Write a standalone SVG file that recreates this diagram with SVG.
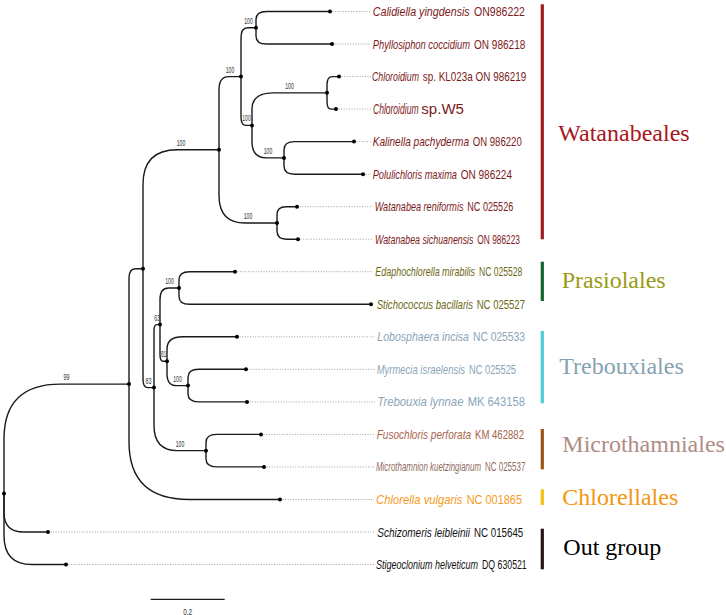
<svg xmlns="http://www.w3.org/2000/svg" width="726" height="615" viewBox="0 0 726 615">
<style>
.br{fill:none;stroke:#1a1a1a;stroke-width:1.4}
.dt{fill:none;stroke:#8a8a8a;stroke-width:0.8;stroke-dasharray:1 1.6}
.nd{fill:#000}
.bs{font-family:"Liberation Sans",Arial,sans-serif;font-size:9px;fill:#333;text-anchor:middle}
.tx{font-family:"Liberation Sans",Arial,sans-serif;font-size:13px}
.big{font-size:14px}
.it{font-style:italic}
.gl{font-family:"Liberation Serif","Times New Roman",serif;font-size:24px}
.bar{stroke-width:3.2}
.w{fill:#7c1a1a}.p{fill:#6c6812}.t{fill:#8ba5b8}.m1{fill:#a8644c}.m2{fill:#8f6c62}.c{fill:#f59a1a}.o{fill:#111}
</style>
<g id="connectors">
<path class="br" d="M256,27.75 V19.6 Q256,11.5 266.6,11.5 H330"/>
<path class="br" d="M256,27.75 V35.9 Q256,44 266.6,44 H332"/>
<path class="br" d="M327,92.85 V84.7 Q327,76.6 332.4,76.6 H339"/>
<path class="br" d="M327,92.85 V101.5 Q327,109.1 331.05,109.1 H336"/>
<path class="br" d="M284,157.9 V149.75 Q284,141.6 294.6,141.6 H354"/>
<path class="br" d="M284,157.9 V166.05 Q284,174.2 294.6,174.2 H363"/>
<path class="br" d="M252,125.4 V109.1 Q252,92.85 273.2,92.85 H327"/>
<path class="br" d="M252,125.4 V141.65 Q252,157.9 266.4,157.9 H284"/>
<path class="br" d="M241,76.6 V37.85 Q241,27.75 247.75,27.75 H256"/>
<path class="br" d="M241,76.6 V116.94 Q241,125.4 245.95,125.4 H252"/>
<path class="br" d="M277,222.95 V214.8 Q277,206.7 286,206.7 H297"/>
<path class="br" d="M277,222.95 V231.1 Q277,239.2 286.45,239.2 H298"/>
<path class="br" d="M219,149.8 V89.5 Q219,76.6 228.9,76.6 H241"/>
<path class="br" d="M219,149.8 V195.45 Q219,222.95 245.1,222.95 H277"/>
<path class="br" d="M179,288 V279.85 Q179,271.7 189.6,271.7 H235"/>
<path class="br" d="M179,288 V296.15 Q179,304.3 189.6,304.3 H371"/>
<path class="br" d="M188,385.6 V377.45 Q188,369.3 198.6,369.3 H246"/>
<path class="br" d="M188,385.6 V393.75 Q188,401.9 198.6,401.9 H247"/>
<path class="br" d="M167,361.2 V349 Q167,336.8 182.9,336.8 H237"/>
<path class="br" d="M167,361.2 V373.4 Q167,385.6 176.45,385.6 H188"/>
<path class="br" d="M160,324.6 V299.7 Q160,288 168.55,288 H179"/>
<path class="br" d="M160,324.6 V354.4 Q160,361.2 163.15,361.2 H167"/>
<path class="br" d="M206,450.65 V442.5 Q206,434.4 216.56,434.4 H261"/>
<path class="br" d="M206,450.65 V458.8 Q206,466.9 216.56,466.9 H264"/>
<path class="br" d="M154,387.6 V331 Q154,324.6 156.7,324.6 H160"/>
<path class="br" d="M154,387.6 V425.55 Q154,450.65 177.4,450.65 H206"/>
<path class="br" d="M143,268.7 V184.6 Q143,149.8 177.2,149.8 H219"/>
<path class="br" d="M143,268.7 V379.14 Q143,387.6 147.95,387.6 H154"/>
<path class="br" d="M129,384.1 V278.37 Q129,268.7 135.3,268.7 H143"/>
<path class="br" d="M129,384.1 V441.8 Q129,499.5 189,499.5 H280"/>
<path class="br" d="M4,493.5 V438.9 Q4,384.1 60.25,384.1 H129"/>
<path class="br" d="M4,493.5 V512.75 Q4,532 23.8,532 H48"/>
<path class="br" d="M4,493.5 V535.4 Q4,564.5 31.9,564.5 H66"/>
<path class="dt" d="M330,11.5 H371 M332,44 H371 M339,76.6 H371 M336,109.1 H371 M354,141.6 H371 M363,174.2 H371 M297,206.7 H373 M298,239.2 H373 M235,271.7 H373 M237,336.8 H375 M246,369.3 H375 M247,401.9 H375 M261,434.4 H375 M264,466.9 H374 M280,499.5 H374 M48,532 H375 M66,564.5 H374"/>
</g>
<g id="nodes">
<g class="nd">
<circle cx="330" cy="11.5" r="2"/><circle cx="332" cy="44" r="2"/><circle cx="339" cy="76.6" r="2"/><circle cx="336" cy="109.1" r="2"/><circle cx="354" cy="141.6" r="2"/><circle cx="363" cy="174.2" r="2"/><circle cx="297" cy="206.7" r="2"/><circle cx="298" cy="239.2" r="2"/><circle cx="235" cy="271.7" r="2"/><circle cx="371" cy="304.3" r="2"/><circle cx="237" cy="336.8" r="2"/><circle cx="246" cy="369.3" r="2"/><circle cx="247" cy="401.9" r="2"/><circle cx="261" cy="434.4" r="2"/><circle cx="264" cy="466.9" r="2"/><circle cx="280" cy="499.5" r="2"/><circle cx="48" cy="532" r="2"/><circle cx="66" cy="564.5" r="2"/>
<circle cx="256" cy="27.75" r="2"/><circle cx="327" cy="92.85" r="2"/><circle cx="284" cy="157.9" r="2"/><circle cx="252" cy="125.4" r="2"/><circle cx="241" cy="76.6" r="2"/><circle cx="277" cy="222.95" r="2"/><circle cx="219" cy="149.8" r="2"/><circle cx="179" cy="288" r="2"/><circle cx="188" cy="385.6" r="2"/><circle cx="167" cy="361.2" r="2"/><circle cx="160" cy="324.6" r="2"/><circle cx="206" cy="450.65" r="2"/><circle cx="154" cy="387.6" r="2"/><circle cx="143" cy="268.7" r="2"/><circle cx="129" cy="384.1" r="2"/><circle cx="4" cy="493.5" r="2"/>
</g>
<g id="support">
<text class="bs" x="248.5" y="24" textLength="8.5" lengthAdjust="spacingAndGlyphs">100</text>
<text class="bs" x="230" y="72.6" textLength="8.5" lengthAdjust="spacingAndGlyphs">100</text>
<text class="bs" x="246.5" y="121.4" textLength="8.5" lengthAdjust="spacingAndGlyphs">100</text>
<text class="bs" x="289.5" y="88.8" textLength="8.5" lengthAdjust="spacingAndGlyphs">100</text>
<text class="bs" x="268" y="153.9" textLength="8.5" lengthAdjust="spacingAndGlyphs">100</text>
<text class="bs" x="248" y="219" textLength="8.5" lengthAdjust="spacingAndGlyphs">100</text>
<text class="bs" x="181" y="145.8" textLength="8.5" lengthAdjust="spacingAndGlyphs">100</text>
<text class="bs" x="66.5" y="380.1" textLength="6" lengthAdjust="spacingAndGlyphs">99</text>
<text class="bs" x="169.5" y="284" textLength="8.5" lengthAdjust="spacingAndGlyphs">100</text>
<text class="bs" x="157" y="320.6" textLength="5.5" lengthAdjust="spacingAndGlyphs">63</text>
<text class="bs" x="163.5" y="357.2" textLength="5.5" lengthAdjust="spacingAndGlyphs">81</text>
<text class="bs" x="177.5" y="381.6" textLength="8.5" lengthAdjust="spacingAndGlyphs">100</text>
<text class="bs" x="148.5" y="383.6" textLength="6" lengthAdjust="spacingAndGlyphs">83</text>
<text class="bs" x="180" y="446.6" textLength="8.5" lengthAdjust="spacingAndGlyphs">100</text>
</g>
<g id="taxa">
<text class="tx it w" transform="translate(372.7 16) scale(0.55 1)" textLength="176.4" lengthAdjust="spacingAndGlyphs">Calidiella yingdensis</text><text class="tx w" transform="translate(474 16) scale(0.55 1)" textLength="92.7" lengthAdjust="spacingAndGlyphs">ON986222</text>
<text class="tx it w" transform="translate(372.7 48.5) scale(0.55 1)" textLength="176.9" lengthAdjust="spacingAndGlyphs">Phyllosiphon coccidium</text><text class="tx w" transform="translate(474 48.5) scale(0.55 1)" textLength="93.3" lengthAdjust="spacingAndGlyphs">ON 986218</text>
<text class="tx it w" transform="translate(372 81.1) scale(0.55 1)" textLength="85.5" lengthAdjust="spacingAndGlyphs">Chloroidium</text><text class="tx w" transform="translate(422.7 81.1) scale(0.55 1)" textLength="188.4" lengthAdjust="spacingAndGlyphs">sp. KL023a ON 986219</text>
<text class="tx big it w" transform="translate(373 113.8) scale(0.55 1)" textLength="82.7" lengthAdjust="spacingAndGlyphs">Chloroidium</text><text class="tx big w" transform="translate(421.3 113.8) scale(0.55 1)" textLength="77.6" lengthAdjust="spacingAndGlyphs">sp.W5</text>
<text class="tx it w" transform="translate(372.7 146.1) scale(0.55 1)" textLength="175.1" lengthAdjust="spacingAndGlyphs">Kalinella pachyderma</text><text class="tx w" transform="translate(472.7 146.1) scale(0.55 1)" textLength="89.1" lengthAdjust="spacingAndGlyphs">ON 986220</text>
<text class="tx it w" transform="translate(372.7 178.7) scale(0.55 1)" textLength="153.3" lengthAdjust="spacingAndGlyphs">Polulichloris maxima</text><text class="tx w" transform="translate(460.7 178.7) scale(0.55 1)" textLength="93.3" lengthAdjust="spacingAndGlyphs">ON 986224</text>
<text class="tx it w" transform="translate(374.7 211.2) scale(0.55 1)" textLength="161.5" lengthAdjust="spacingAndGlyphs">Watanabea reniformis</text><text class="tx w" transform="translate(467.3 211.2) scale(0.55 1)" textLength="83.6" lengthAdjust="spacingAndGlyphs">NC 025526</text>
<text class="tx it w" transform="translate(375 243.7) scale(0.55 1)" textLength="179.1" lengthAdjust="spacingAndGlyphs">Watanabea sichuanensis</text><text class="tx w" transform="translate(477.3 243.7) scale(0.55 1)" textLength="77.6" lengthAdjust="spacingAndGlyphs">ON 986223</text>
<text class="tx it p" transform="translate(375.3 276.2) scale(0.55 1)" textLength="181.3" lengthAdjust="spacingAndGlyphs">Edaphochlorella mirabilis</text><text class="tx p" transform="translate(479 276.2) scale(0.55 1)" textLength="78.7" lengthAdjust="spacingAndGlyphs">NC 025528</text>
<text class="tx it p" transform="translate(376.7 308.8) scale(0.55 1)" textLength="175.1" lengthAdjust="spacingAndGlyphs">Stichococcus bacillaris</text><text class="tx p" transform="translate(476.7 308.8) scale(0.55 1)" textLength="87.8" lengthAdjust="spacingAndGlyphs">NC 025527</text>
<text class="tx it t" transform="translate(377.3 341.3) scale(0.55 1)" textLength="166.7" lengthAdjust="spacingAndGlyphs">Lobosphaera incisa</text><text class="tx t" transform="translate(473 341.3) scale(0.55 1)" textLength="94.5" lengthAdjust="spacingAndGlyphs">NC 025533</text>
<text class="tx it t" transform="translate(376.7 373.8) scale(0.55 1)" textLength="160.5" lengthAdjust="spacingAndGlyphs">Myrmecia israelensis</text><text class="tx t" transform="translate(469 373.8) scale(0.55 1)" textLength="85.5" lengthAdjust="spacingAndGlyphs">NC 025525</text>
<text class="tx it t" transform="translate(377.3 406.4) scale(0.55 1)" textLength="156.7" lengthAdjust="spacingAndGlyphs">Trebouxia lynnae</text><text class="tx t" transform="translate(467.7 406.4) scale(0.55 1)" textLength="104.2" lengthAdjust="spacingAndGlyphs">MK 643158</text>
<text class="tx it m1" transform="translate(376.7 438.9) scale(0.55 1)" textLength="171.5" lengthAdjust="spacingAndGlyphs">Fusochloris perforata</text><text class="tx m1" transform="translate(475 438.9) scale(0.55 1)" textLength="89.1" lengthAdjust="spacingAndGlyphs">KM 462882</text>
<text class="tx it m2" transform="translate(376 471.4) scale(0.55 1)" textLength="190.9" lengthAdjust="spacingAndGlyphs">Microthamnion kuetzingianum</text><text class="tx m2" transform="translate(485 471.4) scale(0.55 1)" textLength="73.3" lengthAdjust="spacingAndGlyphs">NC 025537</text>
<text class="tx it c" transform="translate(376 504) scale(0.55 1)" textLength="157.3" lengthAdjust="spacingAndGlyphs">Chlorella vulgaris</text><text class="tx c" transform="translate(466.7 504) scale(0.55 1)" textLength="100.5" lengthAdjust="spacingAndGlyphs">NC 001865</text>
<text class="tx it o" transform="translate(377.3 536.5) scale(0.55 1)" textLength="168.5" lengthAdjust="spacingAndGlyphs">Schizomeris leibleinii</text><text class="tx o" transform="translate(474 536.5) scale(0.55 1)" textLength="89.6" lengthAdjust="spacingAndGlyphs">NC 015645</text>
<text class="tx it o" transform="translate(376 569) scale(0.55 1)" textLength="185.5" lengthAdjust="spacingAndGlyphs">Stigeoclonium helveticum</text><text class="tx o" transform="translate(482 569) scale(0.55 1)" textLength="81.3" lengthAdjust="spacingAndGlyphs">DQ 630521</text>
</g>
<g id="clades">
<line class="bar" x1="542.3" y1="4.3" x2="542.3" y2="239.3" stroke="#a01b1e"/>
<text class="gl" x="558.3" y="140.7" fill="#a8161c">Watanabeales</text>
<line class="bar" x1="542.3" y1="261.7" x2="542.3" y2="301" stroke="#13642f"/>
<text class="gl" x="561.7" y="287.7" fill="#9a9a14">Prasiolales</text>
<line class="bar" x1="542.3" y1="331" x2="542.3" y2="403.3" stroke="#4dcad8"/>
<text class="gl" x="559.3" y="374" fill="#86a2b0">Trebouxiales</text>
<line class="bar" x1="542.3" y1="429" x2="542.3" y2="469.3" stroke="#9a5515"/>
<text class="gl" x="562.3" y="452" fill="#b08c84">Microthamniales</text>
<line class="bar" x1="542.3" y1="489.3" x2="542.3" y2="505" stroke="#f5c010"/>
<text class="gl" x="562.3" y="505" fill="#f5960f">Chlorellales</text>
<line class="bar" x1="542.3" y1="528.7" x2="542.3" y2="569.3" stroke="#2a1212"/>
<text class="gl" x="563.3" y="555" fill="#000">Out group</text>
</g>
</g>
<g id="scale">
<line x1="150.7" y1="599.3" x2="224.7" y2="599.3" stroke="#1a1a1a" stroke-width="1.3"/>
<text class="bs" x="187.7" y="614.5" textLength="9" lengthAdjust="spacingAndGlyphs">0.2</text>
</g>
</svg>
